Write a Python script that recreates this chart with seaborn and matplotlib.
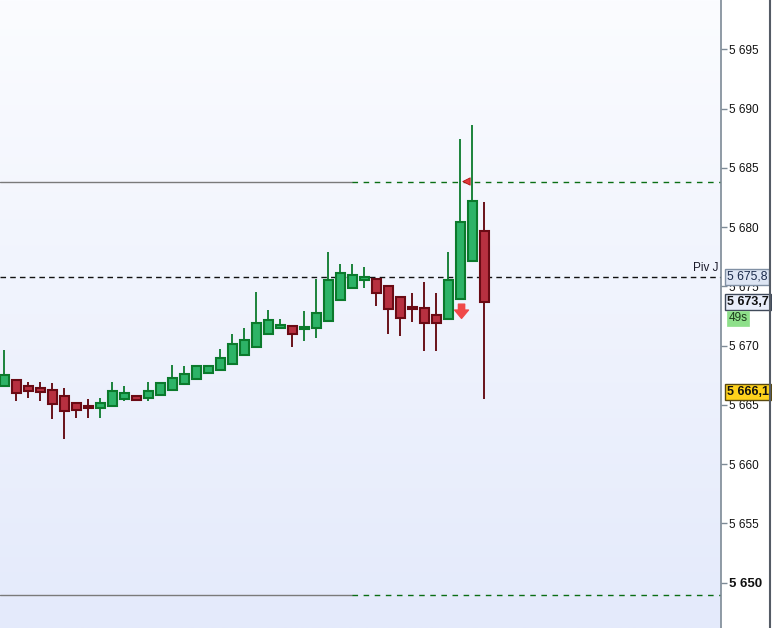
import matplotlib
matplotlib.use("Agg")
import matplotlib.pyplot as plt
import matplotlib.transforms as mtransforms
from matplotlib.lines import Line2D
from matplotlib.colors import LinearSegmentedColormap
import numpy as np
import pandas as pd
import seaborn as sns

# candle data (one bar per period)
opens = [5666.6, 5667.1, 5666.6, 5666.4, 5666.3, 5665.75, 5665.15, 5664.9, 5664.75, 5664.95,
         5665.5, 5665.75, 5665.6, 5665.85, 5666.3, 5666.8, 5667.15, 5667.7, 5667.95, 5668.45,
         5669.25, 5669.85, 5670.95, 5671.5, 5671.65, 5671.4, 5671.45, 5672.05, 5673.85, 5674.9,
         5675.5, 5675.6, 5675.0, 5674.1, 5673.25, 5673.15, 5672.55, 5672.25, 5673.9, 5677.1,
         5679.65]
highs = [5669.6, 5667.1, 5666.9, 5666.9, 5666.85, 5666.4, 5665.25, 5665.5, 5665.6, 5666.9,
         5666.6, 5665.75, 5666.9, 5666.9, 5668.35, 5668.3, 5668.3, 5668.25, 5669.7, 5671.0,
         5671.5, 5674.55, 5673.0, 5672.25, 5671.65, 5672.9, 5675.6, 5677.9, 5676.9, 5676.9,
         5676.65, 5675.6, 5675.0, 5674.1, 5674.45, 5675.35, 5674.45, 5677.9, 5687.45, 5688.6,
         5682.1]
lows = [5666.6, 5665.3, 5665.6, 5665.3, 5663.8, 5662.1, 5663.9, 5663.9, 5663.9, 5664.95,
        5665.3, 5665.3, 5665.3, 5665.85, 5666.3, 5666.8, 5667.15, 5667.7, 5667.95, 5668.45,
        5669.25, 5669.85, 5670.95, 5671.45, 5669.9, 5670.4, 5670.65, 5672.05, 5673.85, 5674.9,
        5674.9, 5673.35, 5671.0, 5670.85, 5672.0, 5669.55, 5669.55, 5672.25, 5673.9, 5677.1,
        5665.5]
closes = [5667.5, 5666.0, 5666.2, 5666.1, 5665.1, 5664.5, 5664.6, 5664.7, 5665.15, 5666.15,
          5666.0, 5665.4, 5666.15, 5666.85, 5667.25, 5667.6, 5668.3, 5668.25, 5668.95, 5670.1,
          5670.45, 5671.95, 5672.2, 5671.7, 5671.0, 5671.55, 5672.75, 5675.5, 5676.1, 5676.0,
          5675.75, 5674.4, 5673.05, 5672.35, 5673.05, 5671.95, 5671.95, 5675.5, 5680.4, 5682.2,
          5673.7]

# horizontal levels
level_prices = [5683.8, 5649.0]
level_split = 29.0          # bar index where the solid part turns dashed
pivot_price = 5675.8
pivot_name = "Piv J"
last_price = 5673.7
timer_text = "49s"
marked_price = 5666.1

# signals
flag_x, flag_y = 38.5, 5683.9
arrow_x, arrow_top, arrow_bottom = 38.1, 5673.5, 5672.3

y_ticks = [5650, 5655, 5660, 5665, 5670, 5675, 5680, 5685, 5690, 5695]

df = pd.DataFrame({"open": opens, "high": highs, "low": lows, "close": closes})
df["bar"] = np.arange(len(df))
df["up"] = df["close"] >= df["open"]

def fmt(v, dec=0):
    s = f"{v:,.{dec}f}".replace(",", " ")
    return s.replace(".", ",")

sns.set_theme(style="white")
plt.rcParams["font.family"] = ["Liberation Sans", "DejaVu Sans"]

fig = plt.figure(figsize=(7.72, 6.28), dpi=100)
fig.patch.set_facecolor("white")
ax = fig.add_axes([0, 0, 721 / 772, 1])

ax.set_xlim(-0.36, 59.72)
ax.set_ylim(5646.18, 5699.16)

# background gradient
grad = np.linspace(0, 1, 256).reshape(-1, 1)
bg = LinearSegmentedColormap.from_list("bg", ["#fbfcff", "#e4eafb"])
ax.imshow(grad, cmap=bg, aspect="auto", extent=[0, 1, 0, 1], transform=ax.transAxes,
          origin="upper", zorder=0)

green_fill, green_edge = "#2db367", "#0b7a2c"
red_fill, red_edge = "#b73040", "#6a0a14"

# wicks
for up, sub in df.groupby("up"):
    ax.vlines(sub["bar"], sub["low"], sub["high"],
              color=green_edge if up else "#5e0008", lw=1.3, zorder=2)

# bodies
for up, sub in df.groupby("up"):
    bottom = np.minimum(sub["open"], sub["close"])
    height = np.maximum((sub["close"] - sub["open"]).abs(), 0.15)
    ax.bar(sub["bar"], height, bottom=bottom, width=0.7,
           color=green_fill if up else red_fill,
           edgecolor=green_edge if up else red_edge, linewidth=1.5, zorder=3)

# levels: solid gray on the left, dashed green to the right
for p in level_prices:
    ax.plot([-0.36, level_split], [p, p], color="#7a7a7a", lw=1.0, zorder=1)
    ax.plot([level_split, 59.72], [p, p], color="#0a6e14", lw=1.0,
            ls=(0, (4, 4)), zorder=1)

ax.axhline(pivot_price, color="#111111", lw=1.0, ls=(0, (4, 3)), zorder=1)
ax.text(59.5, pivot_price + 0.25, pivot_name, ha="right", va="bottom",
        fontsize=8.5, color="#1a1a2a", zorder=5)

# signals
sns.scatterplot(x=[flag_x], y=[flag_y], marker="<", s=28, color="#e23a3a",
                edgecolor="#b01010", linewidth=0.6, ax=ax, zorder=6, legend=False)
ax.annotate("", xy=(arrow_x, arrow_bottom), xytext=(arrow_x, arrow_top),
            arrowprops=dict(arrowstyle="simple,head_length=0.6,head_width=1.0,tail_width=0.45",
                            color="#f04848", mutation_scale=10, shrinkA=0, shrinkB=0),
            zorder=6)

# right price axis
sns.despine(ax=ax, left=True, top=True, bottom=True, right=False)
ax.spines["right"].set_color("#7d8a96")
ax.spines["right"].set_linewidth(1.2)
ax.yaxis.tick_right()
ax.set_yticks(y_ticks)
ax.set_yticklabels([fmt(v) for v in y_ticks])
ax.tick_params(axis="y", right=True, length=4, width=1, color="#7d8a96",
               labelsize=8.5, labelcolor="#111111", pad=2)
ax.get_yticklabels()[0].set_fontweight("bold")
ax.get_yticklabels()[0].set_fontsize(9.5)
ax.set_xticks([])
ax.set_xlabel("")
ax.set_ylabel("")

trans = mtransforms.blended_transform_factory(ax.transAxes, ax.transData)
ax.text(1.008, pivot_price, fmt(pivot_price, 1), transform=trans, ha="left", va="center",
        fontsize=8.8, color="#1a2a4a", clip_on=False, zorder=10,
        bbox=dict(boxstyle="square,pad=0.15", fc="#dde5f3", ec="#8090a4", lw=1))
ax.text(1.008, last_price, fmt(last_price, 1), transform=trans, ha="left", va="center",
        fontsize=9, fontweight="bold", color="#101010", clip_on=False, zorder=10,
        bbox=dict(boxstyle="square,pad=0.18", fc="#e9eefa", ec="#404a5a", lw=1))
ax.annotate(timer_text, xy=(1.0, last_price), xycoords=trans, xytext=(5.5, -12),
            textcoords="offset points", ha="left", va="center", fontsize=8.5,
            color="#1c3a1c", annotation_clip=False, zorder=10,
            bbox=dict(boxstyle="square,pad=0.12", fc="#8ee08a", ec="#8ee08a", lw=0.5))
ax.text(1.008, marked_price, fmt(marked_price, 1), transform=trans, ha="left", va="center",
        fontsize=9, fontweight="bold", color="#101010", clip_on=False, zorder=10,
        bbox=dict(boxstyle="square,pad=0.15", fc="#ffd21c", ec="#5a4a10", lw=1))

# right border of the price pane
fig.add_artist(Line2D([770 / 772, 770 / 772], [0, 1], color="#555c66", lw=1.5))

fig.savefig("out.png", dpi=100)
